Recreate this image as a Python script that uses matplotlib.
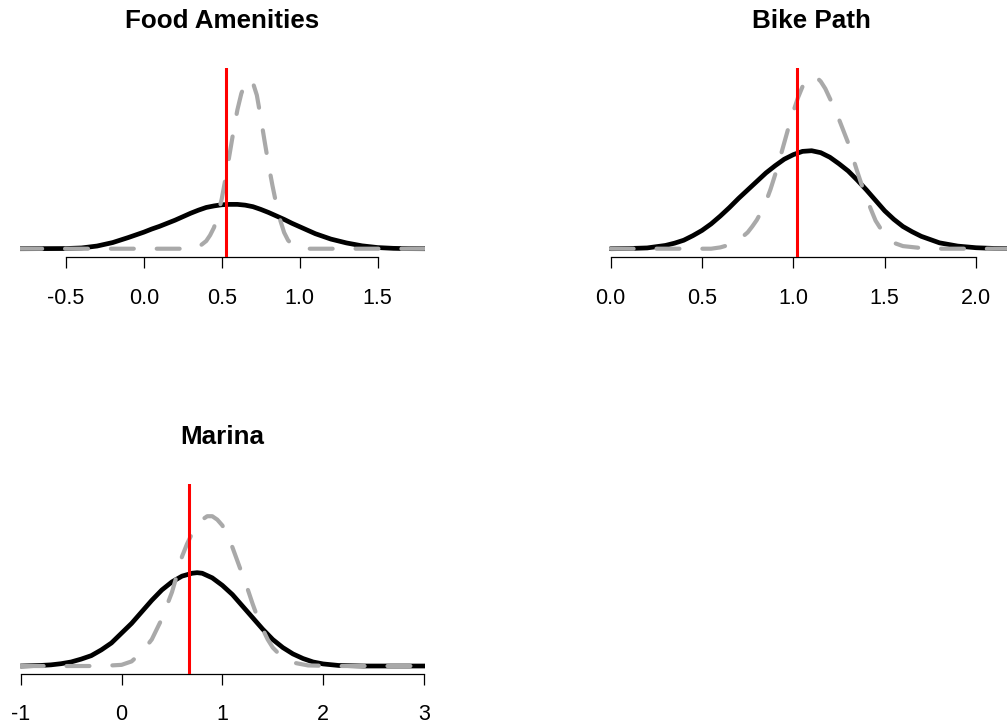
import matplotlib
matplotlib.use("Agg")
import matplotlib.pyplot as plt

plt.rcParams['font.family'] = ['Liberation Sans', 'DejaVu Sans']

# ---- Food Amenities ----
food_title = "Food Amenities"
food_black_x = [-0.8, -0.5, -0.4, -0.3, -0.2, -0.1, 0.0, 0.05, 0.1, 0.15, 0.2, 0.25, 0.3,
                0.35, 0.4, 0.45, 0.5, 0.55, 0.6, 0.65, 0.7, 0.75, 0.8, 0.85, 0.9, 0.95,
                1.0, 1.05, 1.1, 1.15, 1.2, 1.3, 1.4, 1.5, 1.6, 1.7, 1.81]
food_black_y = [0.0, 0.005, 0.02, 0.07, 0.16, 0.29, 0.43, 0.51, 0.58, 0.66, 0.74, 0.83, 0.92,
                1.00, 1.07, 1.11, 1.14, 1.15, 1.15, 1.13, 1.09, 1.02, 0.94, 0.85, 0.76, 0.66,
                0.57, 0.48, 0.39, 0.32, 0.25, 0.15, 0.075, 0.03, 0.01, 0.002, 0.0]
food_gray_x = [-0.8, 0.30, 0.35, 0.40, 0.425, 0.45, 0.475, 0.50, 0.525, 0.55, 0.575, 0.60,
               0.625, 0.65, 0.675, 0.70, 0.725, 0.75, 0.775, 0.80, 0.825, 0.85, 0.875,
               0.90, 0.925, 0.95, 1.00, 1.05, 1.81]
food_gray_y = [0.0, 0.0, 0.04, 0.20, 0.35, 0.55, 0.88, 1.30, 1.85, 2.45, 3.05, 3.60,
               4.02, 4.30, 4.40, 4.30, 3.98, 3.40, 2.78, 2.18, 1.64, 1.15, 0.74,
               0.42, 0.22, 0.11, 0.02, 0.0, 0.0]
food_ref = 0.527
food_ticks = [-0.5, 0.0, 0.5, 1.0, 1.5]
food_ticklabels = ["-0.5", "0.0", "0.5", "1.0", "1.5"]

# ---- Bike Path ----
bike_title = "Bike Path"
bike_black_x = [0.0, 0.1, 0.2, 0.3, 0.35, 0.4, 0.45, 0.5, 0.55, 0.6, 0.65, 0.7, 0.75, 0.8,
                0.85, 0.9, 0.95, 1.0, 1.05, 1.1, 1.15, 1.2, 1.25, 1.3, 1.35, 1.4, 1.45,
                1.5, 1.55, 1.6, 1.65, 1.7, 1.8, 1.9, 2.0, 2.1, 2.25]
bike_black_y = [0.0, 0.003, 0.012, 0.05, 0.085, 0.13, 0.20, 0.28, 0.38, 0.50, 0.63, 0.77, 0.90, 1.03,
                1.16, 1.27, 1.37, 1.44, 1.49, 1.50, 1.47, 1.40, 1.30, 1.19, 1.05, 0.90, 0.74,
                0.58, 0.45, 0.34, 0.26, 0.19, 0.09, 0.04, 0.015, 0.004, 0.0]
bike_gray_x = [0.0, 0.55, 0.6, 0.65, 0.7, 0.75, 0.775, 0.8, 0.825, 0.85, 0.875, 0.9, 0.925,
               0.95, 0.975, 1.0, 1.025, 1.05, 1.075, 1.1, 1.125, 1.15, 1.175, 1.2, 1.225,
               1.25, 1.275, 1.3, 1.325, 1.35, 1.375, 1.4, 1.425, 1.45, 1.5, 1.55, 1.6,
               1.7, 1.8, 2.25]
bike_gray_y = [0.0, 0.0, 0.02, 0.06, 0.13, 0.25, 0.34, 0.44, 0.57, 0.72, 0.91, 1.13, 1.37,
               1.62, 1.87, 2.10, 2.31, 2.48, 2.59, 2.64, 2.63, 2.56, 2.45, 2.30, 2.15,
               1.98, 1.80, 1.62, 1.40, 1.18, 0.97, 0.78, 0.60, 0.43, 0.21, 0.09, 0.04,
               0.01, 0.0, 0.0]
bike_ref = 1.018
bike_ticks = [0.0, 0.5, 1.0, 1.5, 2.0]
bike_ticklabels = ["0.0", "0.5", "1.0", "1.5", "2.0"]

# ---- Marina ----
marina_title = "Marina"
marina_black_x = [-1.0, -0.8, -0.7, -0.6, -0.5, -0.4, -0.3, -0.2, -0.1, 0.0, 0.1, 0.2, 0.3,
                  0.4, 0.5, 0.6, 0.7, 0.75, 0.8, 0.9, 1.0, 1.1, 1.2, 1.3, 1.4, 1.5, 1.6,
                  1.7, 1.8, 1.9, 2.0, 2.15, 2.4, 3.02]
marina_black_y = [0.0, 0.005, 0.01, 0.02, 0.035, 0.06, 0.09, 0.14, 0.20, 0.285, 0.37, 0.47, 0.57,
                  0.66, 0.73, 0.78, 0.805, 0.81, 0.805, 0.765, 0.70, 0.62, 0.52, 0.42, 0.32, 0.23, 0.16,
                  0.105, 0.065, 0.035, 0.018, 0.005, 0.0, 0.0]
marina_gray_x = [-1.0, -0.2, 0.0, 0.1, 0.2, 0.3, 0.4, 0.5, 0.55, 0.6, 0.65, 0.7, 0.75, 0.8,
                 0.85, 0.9, 0.95, 1.0, 1.05, 1.1, 1.15, 1.2, 1.25, 1.3, 1.35, 1.4, 1.45,
                 1.5, 1.6, 1.7, 1.85, 2.1, 3.02]
marina_gray_y = [0.0, 0.0, 0.01, 0.04, 0.12, 0.23, 0.41, 0.64, 0.79, 0.95, 1.06, 1.15, 1.22, 1.27,
                 1.30, 1.30, 1.27, 1.22, 1.14, 1.03, 0.91, 0.79, 0.67, 0.54, 0.42, 0.32, 0.23,
                 0.16, 0.07, 0.03, 0.005, 0.0, 0.0]
marina_ref = 0.667
marina_ticks = [-1, 0, 1, 2, 3]
marina_ticklabels = ["-1", "0", "1", "2", "3"]

W, H = 1007, 724
fig = plt.figure(figsize=(W / 100, H / 100), dpi=100)


def panel(rect_px, xlim, ylim, title, bx, by, gx, gy, ref, ticks, ticklabels):
    left, top, right, bottom = rect_px
    ax = fig.add_axes([left / W, (H - bottom) / H, (right - left) / W, (bottom - top) / H])
    ax.plot(bx, by, color="black", lw=3.4, solid_capstyle="round",
            solid_joinstyle="round", zorder=2)
    gl, = ax.plot(gx, gy, color="#A9A9A9", lw=3.0, zorder=3,
                  dash_capstyle="round", dash_joinstyle="round")
    gl.set_dashes((5.5, 5.5))
    ax.axvline(ref, color="#FF0000", lw=2.2, zorder=4)
    ax.set_xlim(*xlim)
    ax.set_ylim(*ylim)
    for side in ("top", "right", "left"):
        ax.spines[side].set_visible(False)
    ax.spines["bottom"].set_bounds(ticks[0], ticks[-1])
    ax.spines["bottom"].set_linewidth(0.9)
    ax.set_yticks([])
    ax.set_xticks(ticks)
    ax.set_xticklabels(ticklabels)
    ax.tick_params(axis="x", direction="out", length=8, width=0.9, pad=14,
                   labelsize=15.5, colors="black")
    ax.set_title(title, fontsize=18.7, fontweight="bold", pad=28.7)
    ax.patch.set_alpha(0)
    return ax


panel((20, 67.5, 425, 257.2), (-0.795, 1.804), (-0.22, 4.70), food_title,
      food_black_x, food_black_y, food_gray_x, food_gray_y, food_ref,
      food_ticks, food_ticklabels)
panel((609, 67.5, 1014, 257.2), (-0.0093, 2.208), (-0.13, 2.774), bike_title,
      bike_black_x, bike_black_y, bike_gray_x, bike_gray_y, bike_ref,
      bike_ticks, bike_ticklabels)
panel((20, 484.3, 425, 673.5), (-1.007, 3.01), (-0.065, 1.577), marina_title,
      marina_black_x, marina_black_y, marina_gray_x, marina_gray_y, marina_ref,
      marina_ticks, marina_ticklabels)

fig.savefig("out.png", dpi=100)
